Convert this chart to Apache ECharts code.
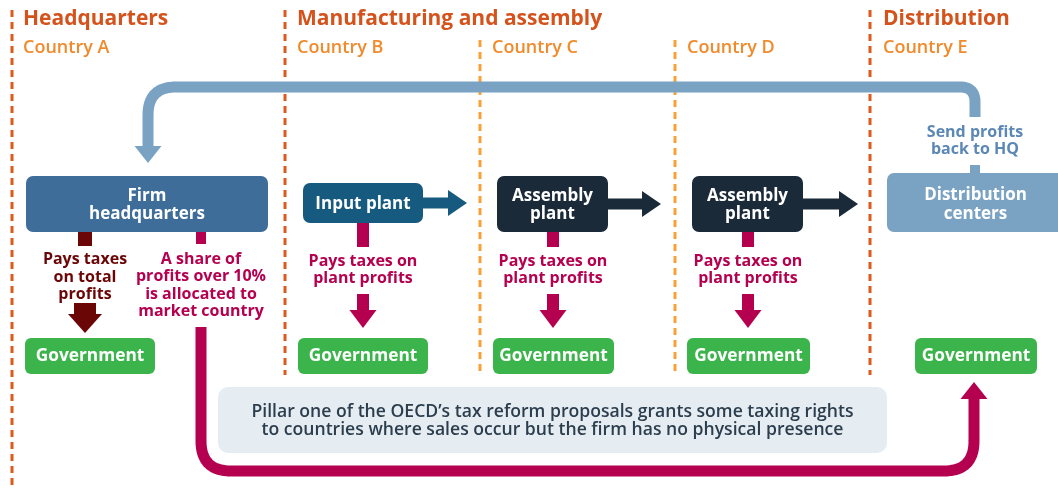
<!DOCTYPE html>
<html><head><meta charset="utf-8">
<script src="https://cdn.jsdelivr.net/npm/echarts@6/dist/echarts.min.js"></script>
<style>html,body{margin:0;padding:0;background:#fff}#c{width:1058px;height:490px}</style>
</head><body><div id="c"></div>
<script>
// ---- content (diagram units = 1058 x 490 canvas) ----
const sections = ['Headquarters', 'Manufacturing and assembly', 'Distribution'];
const sectionX = [23, 297, 883];
const countries = ['Country A', 'Country B', 'Country C', 'Country D', 'Country E'];
const countryX = [23, 297, 492, 687, 883];
const dividerX = [12, 285, 480, 675, 870];
const dividerTop = [10, 10, 40, 40, 10];
const dividerBottom = [490, 375, 375, 375, 375];
const dividerKind = ['border', 'border', 'inner', 'inner', 'border'];

const entities = ['Firm\nheadquarters', 'Input plant', 'Assembly\nplant', 'Assembly\nplant', 'Distribution\ncenters'];
const entityLeft = [26, 303, 497, 692, 887];
const entityRight = [268, 423, 608, 803, 1064];
const entityTop = [176, 183, 176, 176, 173];
const entityBottom = [232, 223, 232, 232, 232];
const entityKind = ['hq', 'input', 'assembly', 'assembly', 'dist'];

const govLabel = 'Government';
const govLeft = [25, 298, 493, 687, 915];
const govRight = [155, 428, 614, 810, 1037];
const govTop = [338, 338, 338, 338, 338];
const govBottom = [374, 374, 374, 374, 374];

const taxLabels = ['Pays taxes\non total\nprofits', 'A share of\nprofits over 10%\nis allocated to\nmarket country',
  'Pays taxes on\nplant profits', 'Pays taxes on\nplant profits', 'Pays taxes on\nplant profits'];
const taxX = [85, 201, 363, 553, 748];
const taxY = [277, 285.5, 270, 270, 270];
const taxKind = ['maroon', 'magenta', 'magenta', 'magenta', 'magenta'];

const stubX = [85, 201, 363, 553, 748, 975];
const stubTop = [232, 232, 223, 232, 232, 165];
const stubBottom = [246, 244, 247, 247, 247, 173];
const stubKind = ['maroon', 'magenta', 'magenta', 'magenta', 'magenta', 'blue'];

const taxArrowX = [85, 363, 553, 748];
const taxArrowTop = [303, 294, 294, 294];
const taxArrowTip = [333, 328, 328, 328];
const taxArrowKind = ['maroonWide', 'magenta', 'magenta', 'magenta'];

const flowFrom = [423, 608, 803];
const flowTo = [467, 661, 858];
const flowY = [203, 204, 204];
const flowKind = ['input', 'assembly', 'assembly'];

const returnPath = [[975, 117], [975, 87], [148, 87], [148, 163]];
const returnLabel = 'Send profits\nback to HQ';
const returnLabelPos = [975, 141];
const marketPath = [[201, 327], [201, 471], [974, 471], [974, 382]];

const noteText = "Pillar one of the OECD\u2019s tax reform proposals grants some taxing rights\nto countries where sales occur but the firm has no physical presence";
const noteBox = [218, 387, 887, 453];

// ---- styles ----
const C = {
  border: '#dd5a1f', inner: '#f7a136', header: '#d4531c', country: '#f18a2a',
  hq: '#3e6d99', input: '#175a80', assembly: '#1a2a39', dist: '#7aa2c3', blue: '#7aa2c3',
  blueText: '#5b88b5', green: '#3bb44b', magenta: '#b5004f', maroon: '#6b0607', maroonWide: '#6b0607',
  note: '#e5edf3', noteText: '#2c3d4d'
};
const FONT = '"Open Sans", "DejaVu Sans", sans-serif';

function txt(x, y, text, size, weight, fill, lh, align) {
  return { type: 'text', style: { text, x, y, fill, fontSize: size, fontWeight: weight, fontFamily: FONT,
    align: align || 'center', verticalAlign: 'middle', lineHeight: lh || size * 1.15 } };
}
function roundedPoints(px, radius) {
  const out = [px[0]];
  for (let k = 1; k < px.length - 1; k++) {
    const a = px[k - 1], b = px[k], c = px[k + 1];
    const d1 = Math.hypot(b[0] - a[0], b[1] - a[1]), d2 = Math.hypot(c[0] - b[0], c[1] - b[1]);
    const r = Math.min(radius, d1 / 2, d2 / 2);
    const s = [b[0] + (a[0] - b[0]) / d1 * r, b[1] + (a[1] - b[1]) / d1 * r];
    const e = [b[0] + (c[0] - b[0]) / d2 * r, b[1] + (c[1] - b[1]) / d2 * r];
    for (let t = 0; t <= 1.0001; t += 1 / 16) {
      const u = 1 - t;
      out.push([u * u * s[0] + 2 * u * t * b[0] + t * t * e[0], u * u * s[1] + 2 * u * t * b[1] + t * t * e[1]]);
    }
  }
  out.push(px[px.length - 1]);
  return out;
}
function arrow(api, pts, radius, width, color, headLen, headHalf) {
  const px = pts.map(p => api.coord(p));
  const n = px.length, last = px[n - 1], prev = px[n - 2];
  const L = Math.hypot(last[0] - prev[0], last[1] - prev[1]);
  const ux = (last[0] - prev[0]) / L, uy = (last[1] - prev[1]) / L;
  const base = [last[0] - ux * headLen, last[1] - uy * headLen];
  const shaft = px.slice(0, n - 1).concat([[base[0] + ux, base[1] + uy]]);
  const nx = -uy, ny = ux;
  return [
    { type: 'polyline', shape: { points: roundedPoints(shaft, radius) },
      style: { fill: null, stroke: color, lineWidth: width, lineJoin: 'round', lineCap: 'butt' } },
    { type: 'polygon', shape: { points: [[base[0] + nx * headHalf, base[1] + ny * headHalf], [base[0] - nx * headHalf, base[1] - ny * headHalf], last] },
      style: { fill: color } }
  ];
}

const chart = echarts.init(document.getElementById('c'), null, { renderer: 'canvas' });
const idx = arr => arr.map((_, i) => [i, i]);

chart.setOption({
  animation: false,
  backgroundColor: '#ffffff',
  grid: { left: 0, right: 0, top: 0, bottom: 0 },
  xAxis: { type: 'value', min: 0, max: 1058, show: false },
  yAxis: { type: 'value', min: 0, max: 490, inverse: true, show: false },
  series: [
    { // dividers
      type: 'custom', data: idx(dividerX), silent: true,
      renderItem: (p, api) => {
        const i = p.dataIndex, a = api.coord([dividerX[i], dividerTop[i]]), b = api.coord([dividerX[i], dividerBottom[i]]);
        return { type: 'line', shape: { x1: a[0], y1: a[1], x2: b[0], y2: b[1] },
          style: { stroke: C[dividerKind[i]], lineWidth: 3, lineDash: [7, 5] } };
      }
    },
    { // section headers
      type: 'custom', data: idx(sections), silent: true,
      renderItem: (p, api) => { const i = p.dataIndex, a = api.coord([sectionX[i], 19]);
        return txt(a[0], a[1], sections[i], 21, 700, C.header, 24, 'left'); }
    },
    { // countries
      type: 'custom', data: idx(countries), silent: true,
      renderItem: (p, api) => { const i = p.dataIndex, a = api.coord([countryX[i], 48]);
        return txt(a[0], a[1], countries[i], 18, 600, C.country, 20, 'left'); }
    },
    { // return flow (profits back to HQ)
      type: 'custom', data: [[0, 0]], silent: true,
      renderItem: (p, api) => {
        const a = api.coord(returnLabelPos);
        return { type: 'group', children: arrow(api, returnPath, 28, 11, C.blue, 17, 13.5)
          .concat([txt(a[0], a[1], returnLabel, 16, 700, C.blueText, 17.5)]) };
      }
    },
    { // market country flow
      type: 'custom', data: [[0, 0]], silent: true,
      renderItem: (p, api) => ({ type: 'group', children: arrow(api, marketPath, 30, 11, C.magenta, 17, 13.5) })
    },
    { // note box
      type: 'custom', data: [[0, 0]], silent: true,
      renderItem: (p, api) => {
        const a = api.coord([noteBox[0], noteBox[1]]), b = api.coord([noteBox[2], noteBox[3]]);
        return { type: 'group', children: [
          { type: 'rect', shape: { x: a[0], y: a[1], width: b[0] - a[0], height: b[1] - a[1], r: 10 }, style: { fill: C.note } },
          txt((a[0] + b[0]) / 2, (a[1] + b[1]) / 2 + 1, noteText, 17.6, 600, C.noteText, 17.5)
        ] };
      }
    },
    { // stubs
      type: 'custom', data: idx(stubX), silent: true,
      renderItem: (p, api) => {
        const i = p.dataIndex, a = api.coord([stubX[i], stubTop[i]]), b = api.coord([stubX[i], stubBottom[i]]);
        const w = stubKind[i] === 'maroon' ? 14 : (i === 1 || i === 5 ? 10 : 12);
        return { type: 'rect', shape: { x: a[0] - w / 2, y: a[1], width: w, height: b[1] - a[1] }, style: { fill: C[stubKind[i]] } };
      }
    },
    { // tax arrows
      type: 'custom', data: idx(taxArrowX), silent: true,
      renderItem: (p, api) => {
        const i = p.dataIndex, wide = taxArrowKind[i] === 'maroonWide';
        return { type: 'group', children: arrow(api, [[taxArrowX[i], taxArrowTop[i]], [taxArrowX[i], taxArrowTip[i]]], 0,
          wide ? 22 : 12, C[taxArrowKind[i]], wide ? 19 : 18, wide ? 17 : 13.5) };
      }
    },
    { // flow arrows between plants
      type: 'custom', data: idx(flowFrom), silent: true,
      renderItem: (p, api) => {
        const i = p.dataIndex;
        return { type: 'group', children: arrow(api, [[flowFrom[i] - 2, flowY[i]], [flowTo[i], flowY[i]]], 0, 11, C[flowKind[i]], 19, 13) };
      }
    },
    { // entity boxes
      type: 'custom', data: idx(entities), silent: true,
      renderItem: (p, api) => {
        const i = p.dataIndex, a = api.coord([entityLeft[i], entityTop[i]]), b = api.coord([entityRight[i], entityBottom[i]]);
        const dy = entityKind[i] === 'dist' ? 2 : 1;
        return { type: 'group', children: [
          { type: 'rect', shape: { x: a[0], y: a[1], width: b[0] - a[0], height: b[1] - a[1], r: 7 }, style: { fill: C[entityKind[i]] } },
          txt((a[0] + b[0]) / 2, (a[1] + b[1]) / 2 + dy, entities[i], 17, 700, '#ffffff', 18.5)
        ] };
      }
    },
    { // governments
      type: 'custom', data: idx(govLeft), silent: true,
      renderItem: (p, api) => {
        const i = p.dataIndex, a = api.coord([govLeft[i], govTop[i]]), b = api.coord([govRight[i], govBottom[i]]);
        return { type: 'group', children: [
          { type: 'rect', shape: { x: a[0], y: a[1], width: b[0] - a[0], height: b[1] - a[1], r: 6 }, style: { fill: C.green } },
          txt((a[0] + b[0]) / 2, (a[1] + b[1]) / 2, govLabel, 17.3, 700, '#ffffff', 20)
        ] };
      }
    },
    { // tax labels
      type: 'custom', data: idx(taxLabels), silent: true,
      renderItem: (p, api) => {
        const i = p.dataIndex, a = api.coord([taxX[i], taxY[i]]);
        return txt(a[0], a[1], taxLabels[i], 16, 700, C[taxKind[i]], 17.3);
      }
    }
  ]
});
</script></body></html>
